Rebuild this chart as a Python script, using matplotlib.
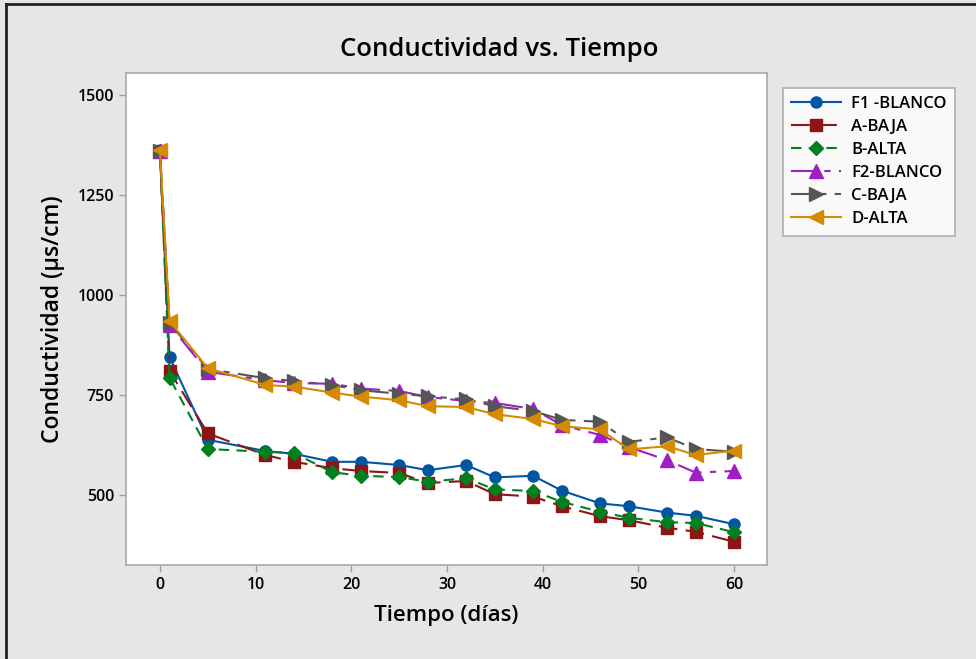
import matplotlib
matplotlib.use("Agg")
import matplotlib.pyplot as plt
from matplotlib.lines import Line2D

days = [0, 1, 5, 11, 14, 18, 21, 25, 28, 32, 35, 39, 42, 46, 49, 53, 56, 60]
f1_blanco = [1360, 845, 638, 610, 603, 583, 583, 575, 562, 575, 544, 548, 511, 479, 472, 456, 448, 427]
a_baja = [1360, 810, 654, 600, 583, 567, 560, 555, 530, 535, 502, 496, 472, 447, 437, 418, 408, 383]
b_alta = [1360, 793, 615, 608, 605, 557, 548, 545, 533, 542, 514, 510, 483, 458, 443, 432, 430, 407]
f2_blanco = [1360, 925, 808, 787, 780, 778, 766, 760, 745, 735, 730, 715, 675, 650, 620, 587, 556, 560]
c_baja = [1360, 930, 815, 792, 785, 775, 762, 753, 747, 739, 722, 710, 688, 683, 633, 644, 615, 608]
d_alta = [1362, 935, 817, 775, 771, 756, 746, 737, 722, 720, 702, 690, 672, 664, 614, 622, 600, 611]

series_names = ["F1 -BLANCO", "A-BAJA", "B-ALTA", "F2-BLANCO", "C-BAJA", "D-ALTA"]
yticks = [500, 750, 1000, 1250, 1500]
xticks = [0, 10, 20, 30, 40, 50, 60]

plt.rcParams['font.family'] = ['Open Sans', 'DejaVu Sans']

fig = plt.figure(figsize=(9.76, 6.59), dpi=100)
fig.patch.set_facecolor('#E6E6E6')

ax = fig.add_axes([126/976, 1-565/659, (767-126)/976, (565-73)/659])
ax.set_facecolor('white')

styles = [
    dict(color='#0055A5', marker='o', ls='-', ms=8),
    dict(color='#8C1515', marker='s', ls=(0, (9, 4)), ms=8),
    dict(color='#00801E', marker='D', ls=(0, (5, 3.5)), ms=7.5),
    dict(color='#9E1FC4', marker='^', ls=(0, (12, 4, 3, 4)), ms=9.5),
    dict(color='#555555', marker='>', ls=(0, (10, 4, 3, 4)), ms=9.5),
    dict(color='#D68A00', marker='<', ls='-', ms=9.5),
]
data = [f1_blanco, a_baja, b_alta, f2_blanco, c_baja, d_alta]

handles = []
for name, vals, st in zip(series_names, data, styles):
    h, = ax.plot(days, vals, color=st['color'], linestyle=st['ls'], lw=1.5,
                 marker=st['marker'], markersize=st['ms'],
                 markerfacecolor=st['color'], markeredgecolor=st['color'],
                 label=name)
    handles.append(h)

ax.set_xlim(-3.55, 63.45)
ax.set_ylim(325, 1555)
ax.set_xticks(xticks)
ax.set_yticks(yticks)
for sp in ax.spines.values():
    sp.set_color('#A8A8A8')
    sp.set_linewidth(1.2)
ax.tick_params(axis='both', colors='#A0A0A0', length=5, width=1, labelcolor='black',
               labelsize=11.5)
for lbl in ax.get_xticklabels() + ax.get_yticklabels():
    lbl.set_fontweight('semibold')

ax.set_xlabel('Tiempo (días)', fontsize=16, fontweight='semibold', labelpad=9)
ax.set_ylabel('Conductividad (μs/cm)', fontsize=16.5, fontweight='semibold', labelpad=9)

fig.text(499/976, 1-50/659, 'Conductividad vs. Tiempo', ha='center', va='center',
         fontsize=18.5, fontweight='semibold')

leg = fig.legend(handles=handles, loc='upper left',
                 bbox_to_anchor=(783/976, 1-88/659), frameon=True,
                 fontsize=12, handlelength=3.0, labelspacing=0.42,
                 borderpad=0.5, borderaxespad=0, fancybox=False, handletextpad=0.6)
leg.get_frame().set_edgecolor('#A0A0A0')
leg.get_frame().set_linewidth(1.2)
for t in leg.get_texts():
    t.set_fontweight('semibold')

# outer frame lines (left and top)
fig.add_artist(Line2D([6/976, 6/976], [0, 1-4/659], transform=fig.transFigure,
                      color='#222222', lw=2))
fig.add_artist(Line2D([6/976, 1], [1-4/659, 1-4/659], transform=fig.transFigure,
                      color='#222222', lw=2))

fig.savefig('out.png', dpi=100, facecolor=fig.get_facecolor())
